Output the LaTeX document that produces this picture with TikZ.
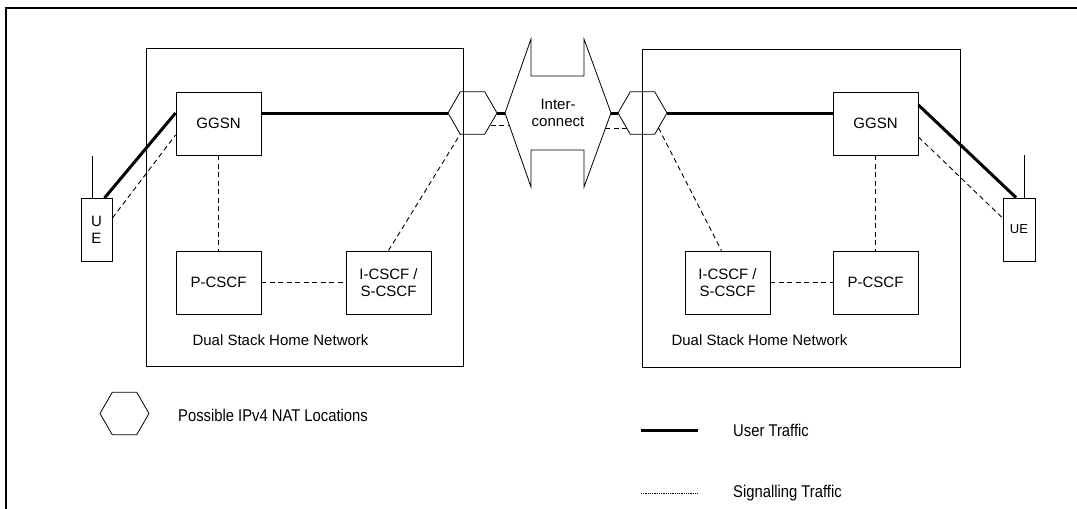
\documentclass[tikz,border=0pt]{standalone}
\usepackage{fontspec}
\setmainfont{Liberation Sans}
\usetikzlibrary{shapes.geometric,calc}
\begin{document}
\begin{tikzpicture}[x=1pt,y=-1pt,
  box/.style={draw, line width=0.9pt, minimum width=85pt, minimum height=63pt, inner sep=0pt, align=center, font=\fontsize{15}{17}\selectfont},
  uebox/.style={draw, line width=0.9pt, minimum width=31pt, minimum height=63pt, inner sep=0pt, align=center, font=\fontsize{15}{17}\selectfont},
  netbox/.style={draw, line width=0.9pt},
  hexa/.style={draw, regular polygon, regular polygon sides=6, minimum size=49pt, inner sep=0pt, outer sep=0pt, line width=0.8pt},
  usertr/.style={line width=3pt},
  sigtr/.style={line width=0.9pt, dash pattern=on 5pt off 3.5pt},
  lbl/.style={inner sep=0pt, font=\fontsize{15}{17}\selectfont, align=center},
  leg/.style={inner sep=0pt, anchor=west, font=\fontsize{17}{19}\selectfont}
]
\useasboundingbox (0,0) rectangle (1077,509);
% outer frame
\draw[line width=1.2pt] (6,509) -- (6,8) -- (1077,8);
% home networks
\draw[netbox] (146,48) rectangle (463,366);
\draw[netbox] (642,49) rectangle (960,367);
\node[lbl] (lnet) at (280.5,340) {Dual Stack Home Network};
\node[lbl] (rnet) at (759.5,340) {Dual Stack Home Network};
% left side
\node[box] (lggsn) at (218.5,123.5) {GGSN};
\node[box] (lpcscf) at (218.5,282.5) {P-CSCF};
\node[box] (licscf) at (388.5,282.5) {I-CSCF /\\S-CSCF};
\node[uebox] (lue) at (96.5,230) {U\\E};
\draw[line width=0.9pt] ([xshift=-4.5pt]lue.north) -- ++(0,-42);
% right side
\node[box] (rggsn) at (875.5,123.5) {GGSN};
\node[box] (rpcscf) at (875.5,282.5) {P-CSCF};
\node[box] (ricscf) at (727.5,282.5) {I-CSCF /\\S-CSCF};
\node[uebox, minimum width=32pt, font=\fontsize{13}{15}\selectfont] (rue) at (1019,229.5) {UE};
\draw[line width=0.9pt] ([xshift=5pt]rue.north) -- ++(0,-43);
% NAT hexagons
\node[hexa] (lhex) at (472.5,113) {};
\node[hexa] (rhex) at (642.5,113) {};
% interconnect
\draw[line width=0.8pt] (505,113) coordinate (icl) -- (531,39) -- (531,76) -- (584,76) -- (584,39) -- (611,113) coordinate (icr) -- (584,187) -- (584,150) -- (531,150) -- (531,187) -- cycle;
\node[lbl, font=\fontsize{15}{17}\selectfont] (ic) at (558,113) {Inter-\\connect};
% user traffic
\draw[usertr] ([xshift=-8pt]lue.north east) -- ([yshift=10.5pt]lggsn.west);
\draw[usertr] ([yshift=10.5pt]lggsn.east) -- (lhex.west);
\draw[usertr] (lhex.east) -- (icl);
\draw[usertr] (icr) -- (rhex.west);
\draw[usertr] (rhex.east) -- ([yshift=10.5pt]rggsn.west);
\draw[usertr] ([yshift=18.5pt]rggsn.east) -- ([xshift=-3pt]rue.north);
% signalling traffic
\draw[sigtr] ([yshift=12pt]lue.east) -- ([yshift=-11.5pt]lggsn.west);
\draw[sigtr] (lggsn.south) -- (lpcscf.north);
\draw[sigtr] (lpcscf.east) -- (licscf.west);
\draw[sigtr] (licscf.north) -- ([shift={(-12.25,21.2)}]lhex.center);
\draw[sigtr] ([shift={(18,12)}]lhex.center) -- ([shift={(5,12)}]icl);
\draw[sigtr] ([shift={(-6,15)}]icr) -- ([shift={(-14.5,15)}]rhex.center);
\draw[sigtr] ([shift={(16,15)}]rhex.center) -- ([xshift=-6pt]ricscf.north);
\draw[sigtr] (ricscf.east) -- (rpcscf.west);
\draw[sigtr] (rggsn.south) -- (rpcscf.north);
\draw[sigtr] ([yshift=-13.5pt]rggsn.east) -- ([yshift=11.5pt]rue.west);
% legend
\node[hexa] (leghex) at (124.5,413.5) {};
\node[leg] (legnat) at (178,415) {\scalebox{0.87}[1]{Possible IPv4 NAT Locations}};
\coordinate (lu1) at (641,430);
\coordinate (lu2) at (698,430);
\draw[usertr] (lu1) -- (lu2);
\node[leg] (legusr) at (733,430) {\scalebox{0.87}[1]{User Traffic}};
\coordinate (ls1) at (641,493);
\coordinate (ls2) at (697,493);
\draw[line width=0.8pt, dash pattern=on 1pt off 0.8pt] (ls1) -- (ls2);
\node[leg] (legsig) at (733,493) {\scalebox{0.87}[1]{Signalling Traffic}};
\end{tikzpicture}
\end{document}
